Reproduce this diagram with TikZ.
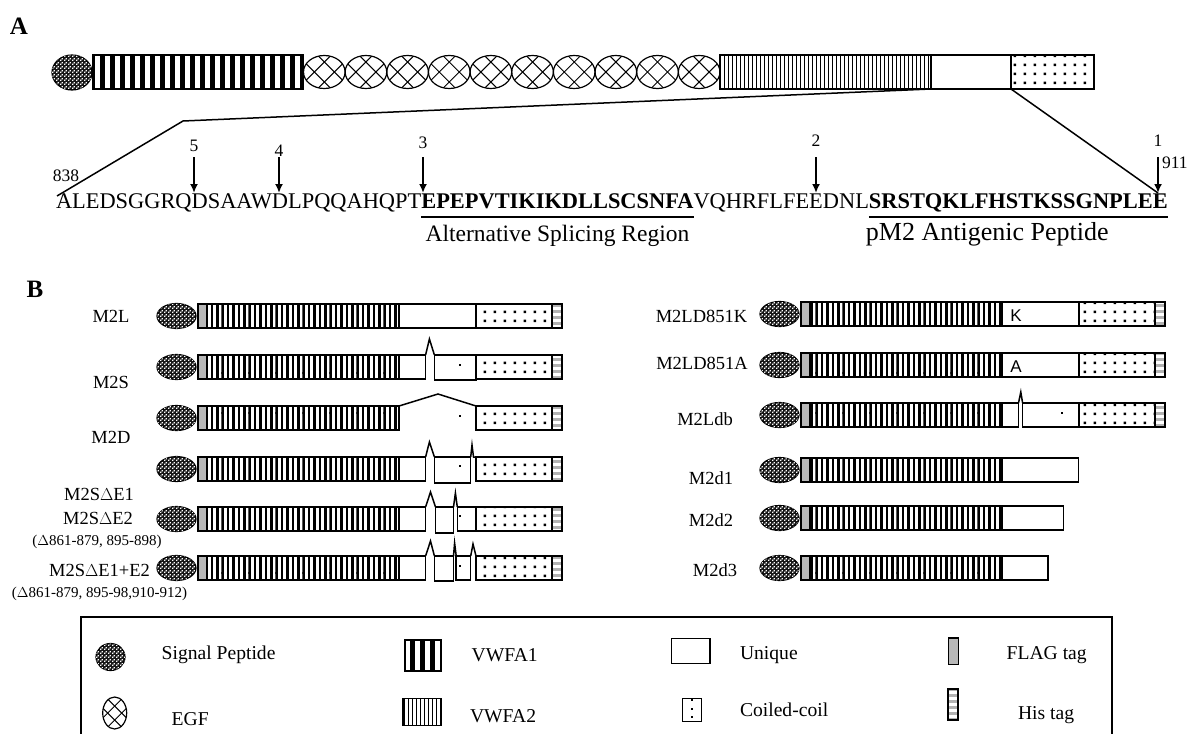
\documentclass[tikz,border=0pt]{standalone}
\usepackage{fontspec}
\setmainfont{Liberation Serif}
\newfontfamily\arialfont{Liberation Sans}
\usetikzlibrary{arrows.meta,patterns,shapes.geometric,positioning}

\pgfdeclarepatternformonly{vwfwide}{\pgfqpoint{0pt}{-1pt}}{\pgfqpoint{10pt}{41pt}}{\pgfqpoint{10pt}{40pt}}{%
  \pgfpathrectangle{\pgfqpoint{0pt}{-1pt}}{\pgfqpoint{5pt}{42pt}}\pgfusepath{fill}}
\pgfdeclarepatternformonly{vwfthin}{\pgfqpoint{0pt}{-1pt}}{\pgfqpoint{4pt}{41pt}}{\pgfqpoint{4pt}{40pt}}{%
  \pgfpathrectangle{\pgfqpoint{0pt}{-1pt}}{\pgfqpoint{1.4pt}{42pt}}\pgfusepath{fill}}
\pgfdeclarepatternformonly{vwfmix}{\pgfqpoint{0pt}{-1pt}}{\pgfqpoint{5.4pt}{41pt}}{\pgfqpoint{5.4pt}{40pt}}{%
  \pgfpathrectangle{\pgfqpoint{0pt}{-1pt}}{\pgfqpoint{2.5pt}{42pt}}\pgfusepath{fill}}
\pgfdeclarepatternformonly{sigholes}{\pgfpointorigin}{\pgfqpoint{4pt}{4pt}}{\pgfqpoint{4pt}{4pt}}{%
  \pgfpathrectangle{\pgfpointorigin}{\pgfqpoint{1.6pt}{1.6pt}}%
  \pgfpathrectangle{\pgfqpoint{2pt}{2pt}}{\pgfqpoint{1.6pt}{1.6pt}}\pgfusepath{fill}}
\pgfdeclarepatternformonly{coildots}{\pgfpointorigin}{\pgfqpoint{10pt}{8.5pt}}{\pgfqpoint{10pt}{8.5pt}}{%
  \pgfpathrectangle{\pgfqpoint{4pt}{3pt}}{\pgfqpoint{2.6pt}{2.6pt}}\pgfusepath{fill}}
\pgfdeclarepatternformonly{hisbands}{\pgfqpoint{-1pt}{0pt}}{\pgfqpoint{11pt}{6pt}}{\pgfqpoint{10pt}{6pt}}{%
  \pgfpathrectangle{\pgfqpoint{-1pt}{0pt}}{\pgfqpoint{12pt}{3pt}}\pgfusepath{fill}}

\begin{document}
\begin{tikzpicture}[x=1pt,y=-1pt,
  every node/.style={inner sep=0pt,outer sep=0pt},
  panel/.style={font=\fontsize{25}{28}\selectfont\bfseries},
  seq/.style={font=\fontsize{22.4}{26}\selectfont},
  seqb/.style={font=\fontsize{22.4}{26}\selectfont\bfseries},
  note/.style={font=\fontsize{23.5}{27}\selectfont},
  notebig/.style={font=\fontsize{26}{29}\selectfont},
  num/.style={font=\fontsize{17.5}{20}\selectfont},
  lbl/.style={font=\fontsize{18.5}{21}\selectfont},
  small/.style={font=\fontsize{15}{17}\selectfont},
  legtxt/.style={font=\fontsize{19.6}{22}\selectfont},
  mut/.style={font=\arialfont\fontsize{17}{20}\selectfont},
  box/.style={draw,line width=1.5pt},
  sig/.style={draw,ellipse,line width=1.2pt,fill=black!90,
    postaction={pattern=sigholes,pattern color=white}},
  egf/.style={draw,ellipse,line width=1.2pt,path picture={
      \foreach \d in {-#1,#1}{
        \draw[line width=1pt] ([xshift=\d pt]path picture bounding box.center)
          ++(-25pt,-25pt) -- ++(50pt,50pt);
        \draw[line width=1pt] ([xshift=\d pt]path picture bounding box.center)
          ++(-25pt,25pt) -- ++(50pt,-50pt);}}},
  egf/.default=10,
  flag/.style={box,fill=black!28},
  his/.style={box,pattern=hisbands,pattern color=black!30},
  coil/.style={box,pattern=coildots},
  arr/.style={-{Latex[length=9pt,width=8pt]},line width=1.8pt},
  zoomln/.style={line width=1.5pt},
  splice/.style={line width=1.5pt}
]
\useasboundingbox (0,0) rectangle (1190,733);

% panel A
\node[panel] (pa) at (19,26) {A};
\node[sig,minimum width=40pt,minimum height=35pt] (sp) at (72,72.5) {};
\node[box,pattern=vwfwide,minimum width=210.5pt,minimum height=34pt,anchor=west] (wa) at (93,72) {};
\foreach \i in {0,...,9}
  \node[egf,minimum width=41.6pt,minimum height=33pt] (eg\i) at ({324.3+41.65*\i},72) {};
\node[box,pattern=vwfthin,minimum width=211pt,minimum height=34pt,anchor=west] (wb) at (720,72) {};
\node[box,minimum width=80pt,minimum height=34pt,anchor=west] (uq) at (931,72) {};
\node[coil,minimum width=83pt,minimum height=34pt,anchor=west] (cc) at (1011,72) {};

% sequence
\node[seq,anchor=base west] (sa) at (56,208) {ALEDSGGRQDSAAWDLPQQAHQPT};
\node[seqb,anchor=base west] (sb) at (sa.base east) {EPEPVTIKIKDLLSCSNFA};
\node[seq,anchor=base west] (sc) at (sb.base east) {VQHRFLFEEDNL};
\node[seqb,anchor=base west] (sd) at (sc.base east) {SRSTQKLFHSTKSSGNPLEE};
\draw[line width=1.8pt] ([yshift=-9pt]sb.base west) -- ([yshift=-9pt]sb.base east);
\draw[line width=1.8pt] ([yshift=-9pt]sd.base west) -- ([yshift=-9pt]sd.base east);
\node[note,anchor=base] (asr) at ([yshift=-33pt]sb.base) {Alternative Splicing Region};
\node[notebig,anchor=base west] (pep) at ([xshift=-3pt,yshift=-32pt]sd.base west) {pM2 Antigenic Peptide};

\foreach \k/\x/\y in {5/194/146,4/279/151,3/423/143,2/816/141,1/1158/141}{
  \node[num] (n\k) at (\x,\y) {\k};
  \coordinate (t\k) at (\x,193);
  \draw[arr] (n\k.south |- 0,157) -- (t\k);
}
\node[num] (p838) at (66,176) {838};
\node[num,anchor=west] (p911) at (1162,163) {911};

\coordinate (kink) at (183,121);
\coordinate (zl) at (57,196);
\draw[zoomln] (uq.south west) -- (kink) -- (zl);
\draw[zoomln] (uq.south east) -- (t1);

% panel B
\node[panel] (pb) at (35,289) {B};
\foreach \dx/\c/\r in {0/316/1,0/367/2,0/418/3,0/469/4,0/519/5,0/568/6,
    603/314/7,603/365/8,603/415/9,603/470/10,603/518/11,603/568/12}{
  \node[sig,minimum width=39pt,minimum height=25pt] (sb\r) at (176.5+\dx,\c) {};
  \draw[flag] (198+\dx,\c-12) rectangle (207+\dx,\c+12);
  \draw[box,pattern=vwfmix] (207+\dx,\c-12) rectangle (399+\dx,\c+12);
}
\foreach \dx/\c in {0/316,0/367,0/418,0/469,0/519,0/568,603/314,603/365,603/415}{
  \draw[coil] (476+\dx,\c-12) rectangle (552+\dx,\c+12);
  \draw[his] (552+\dx,\c-12) rectangle (562+\dx,\c+12);
}

% left constructs
\draw[box] (399,304) rectangle (476,328);
\draw[box] (399,355) rectangle (425.6,379);
\draw[splice] (425.6,355) -- (429.4,339) -- (434.4,355);
\draw[box] (434.4,355) rectangle (476,380);
\fill (459,364) rectangle ++(2,2);
\draw[splice] (399,406) -- (438,394) -- (476,406);
\fill (459,415) rectangle ++(2,2);
\draw[box] (399,457) rectangle (425.6,481);
\draw[splice] (425.6,457) -- (429.4,442) -- (434.4,457);
\draw[box] (434.4,457) rectangle (470.7,483);
\draw[splice] (470.7,457) -- (472,445) -- (473.5,457) -- (476,457);
\fill (459,465) rectangle ++(2,2);
\draw[box] (399,507) rectangle (425.6,531);
\draw[splice] (425.6,507) -- (430.5,492) -- (435.5,507);
\draw[box] (435.5,507) rectangle (453.5,533);
\draw[splice] (453.5,507) -- (455.4,493) -- (457.3,507);
\draw[box] (457.3,507) rectangle (476,531);
\fill (459,515) rectangle ++(2,2);
\draw[box] (399,556) rectangle (425.6,580);
\draw[splice] (425.6,556) -- (430.5,541) -- (434.4,556);
\draw[box] (434.4,556) rectangle (453.5,581);
\draw[splice] (453.5,556) -- (454.6,543) -- (456.2,556);
\draw[box] (456.2,556) rectangle (470.7,580);
\draw[splice] (470.7,556) -- (473,544) -- (476,556);
\fill (459,565) rectangle ++(2,2);

% right constructs
\draw[box] (1002,302) rectangle (1079,326);
\node[mut] (mk) at (1016,316) {K};
\draw[box] (1002,353) rectangle (1079,377);
\node[mut] (ma) at (1016,367) {A};
\draw[box] (1002,403) rectangle (1018.5,427);
\draw[splice] (1018.5,403) -- (1020.8,392) -- (1022.6,403);
\draw[box] (1022.6,403) rectangle (1079,427);
\fill (1061,412) rectangle ++(2,2);
\draw[box] (1002,458) rectangle (1078.7,482);
\draw[box] (1002,506) rectangle (1063.7,530);
\draw[box] (1002,556) rectangle (1048,580);

% construct names
\node[lbl] (m2l) at (111,316) {M2L};
\node[lbl] (m2s) at (111,382) {M2S};
\node[lbl] (m2d) at (111,437) {M2D};
\node[lbl] (de1) at (99,494) {M2S$\Delta$E1};
\node[lbl] (de2) at (98,518.5) {M2S$\Delta$E2};
\node[small] (de2r) at (97,541.5) {($\Delta$861-879, 895-898)};
\node[lbl] (de12) at (99.5,570) {M2S$\Delta$E1+E2};
\node[small] (de12r) at (99.5,593.5) {($\Delta$861-879, 895-98,910-912)};
\node[lbl] (d851k) at (701.5,316) {M2LD851K};
\node[lbl] (d851a) at (702,363) {M2LD851A};
\node[lbl] (ldb) at (705,419) {M2Ldb};
\node[lbl] (dd1) at (711,478) {M2d1};
\node[lbl] (dd2) at (711,520.5) {M2d2};
\node[lbl] (dd3) at (715,570.5) {M2d3};

% legend
\draw[line width=1.2pt] (81,745) -- (81,617) -- (1112,617) -- (1112,745);
\node[sig,minimum width=29pt,minimum height=27pt] (lsig) at (110.5,657) {};
\node[legtxt,anchor=west] (tsig) at (161.7,655) {Signal Peptide};
\node[egf=7,minimum width=24pt,minimum height=32pt] (legf) at (114.7,713) {};
\node[legtxt,anchor=west] (tegf) at (171.7,719) {EGF};
\draw[box,pattern=vwfwide] (405,640) rectangle (441.7,671);
\node[legtxt,anchor=west] (twa) at (471.7,655) {VWFA1};
\draw[box,pattern=vwfthin] (403,698.7) rectangle (441.7,725.3);
\node[legtxt,anchor=west] (twb) at (470,716) {VWFA2};
\draw[box] (671.7,638.7) rectangle (710,663.7);
\node[legtxt,anchor=west] (tuq) at (740,655) {Unique};
\draw[box] (682.7,698.7) rectangle (701.7,721.3);
\foreach \y in {699,707.5,716} \fill (691.2,\y) rectangle ++(2,2);
\node[legtxt,anchor=west] (tcc) at (740,710) {Coiled-coil};
\draw[flag] (948.3,638) rectangle (958.3,664.7);
\node[legtxt,anchor=west] (tfl) at (1006.7,655) {FLAG tag};
\draw[his] (948,689) rectangle (958,720);
\node[legtxt,anchor=west] (this) at (1018,715) {His tag};
\end{tikzpicture}
\end{document}
